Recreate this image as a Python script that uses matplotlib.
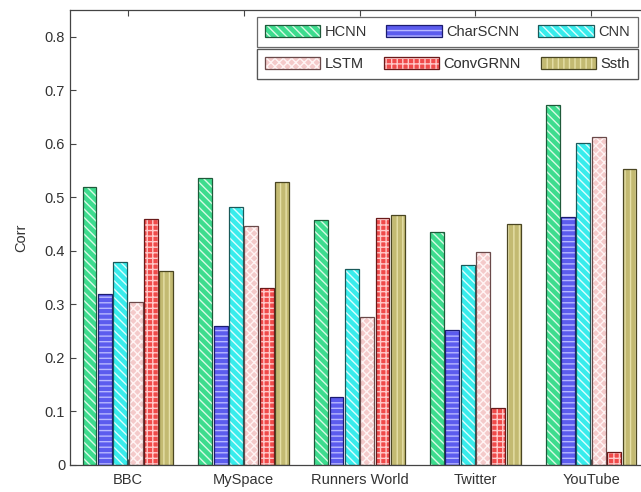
import matplotlib
matplotlib.use("Agg")
import matplotlib.pyplot as plt
from matplotlib.patches import Patch
import numpy as np

plt.rcParams["font.family"] = ["Liberation Sans", "DejaVu Sans"]
plt.rcParams["hatch.linewidth"] = 1.0

CATEGORIES = ["BBC", "MySpace", "Runners World", "Twitter", "YouTube"]
MODELS = ["HCNN", "CharSCNN", "CNN", "LSTM", "ConvGRNN", "Ssth"]

hcnn = [0.520, 0.536, 0.458, 0.435, 0.672]
charscnn = [0.319, 0.260, 0.127, 0.252, 0.464]
cnn = [0.380, 0.482, 0.366, 0.373, 0.602]
lstm = [0.304, 0.447, 0.276, 0.397, 0.613]
convgrnn = [0.459, 0.331, 0.461, 0.107, 0.025]
ssth = [0.362, 0.529, 0.467, 0.450, 0.553]

YTICKS = [0, 0.1, 0.2, 0.3, 0.4, 0.5, 0.6, 0.7, 0.8]
YTICKLABELS = ["0", "0.1", "0.2", "0.3", "0.4", "0.5", "0.6", "0.7", "0.8"]

# face colour, hatch, hatch colour, edge colour
STYLES = [
    ("#3ddc8e", "\\\\\\\\", "#d8fbe6", "#1f5a3a"),
    ("#5c5cee", "---", "#b8b8ff", "#1c1c70"),
    ("#38ecec", "\\\\\\\\", "#dcffff", "#1a5a5a"),
    ("#f4caca", "xxxx", "#fff4f4", "#6a4a4a"),
    ("#f04a4a", "+++", "#ffc8c8", "#6a1a1a"),
    ("#c3ba72", "|||", "#e6e0a8", "#4a4622"),
]


def main() -> None:
    series = [hcnn, charscnn, cnn, lstm, convgrnn, ssth]
    fig = plt.figure(figsize=(6.41, 4.92), dpi=100)
    ax = fig.add_axes([70 / 641, 27 / 492, 579 / 641, 455 / 492])

    x = np.arange(1, len(CATEGORIES) + 1)
    step = 0.1325
    width = 0.12
    handles = []
    for j, (vals, style) in enumerate(zip(series, STYLES)):
        face, hatch, hcol, edge = style
        pos = x + (j - 2.5) * step
        ax.bar(pos, vals, width, color=face, hatch=hatch, edgecolor=hcol, linewidth=0)
        ax.bar(pos, vals, width, fill=False, edgecolor=edge, linewidth=0.9)
        handles.append((Patch(facecolor=face, hatch=hatch, edgecolor=hcol, linewidth=0),
                        Patch(fill=False, edgecolor=edge, linewidth=0.9)))

    ax.set_xlim(0.5, 5.5)
    ax.set_ylim(0, 0.85)
    ax.set_xticks(x)
    ax.set_xticklabels(CATEGORIES, fontsize=10.5, color="#333333")
    ax.set_yticks(YTICKS)
    ax.set_yticklabels(YTICKLABELS, fontsize=10.5, color="#333333")
    ax.tick_params(direction="in", length=4, width=0.8, color="#444444",
                   right=True, top=True)
    ax.tick_params(axis="x", pad=6)
    for sp in ax.spines.values():
        sp.set_color("#444444")
        sp.set_linewidth(0.9)
    ax.set_ylabel("Corr", fontsize=10.5, color="#333333", labelpad=12)

    rows = [(0, 3, 17), (3, 6, 49)]
    for i0, i1, ytop in rows:
        leg = ax.legend(handles[i0:i1], MODELS[i0:i1], ncol=3, mode="expand",
                        bbox_to_anchor=(257 / 641, 1 - ytop / 492, 381 / 641, 0.0001),
                        bbox_transform=fig.transFigure, loc="upper left",
                        fontsize=10.5, frameon=True, fancybox=False,
                        borderpad=0.55, handlelength=3.8, handleheight=0.85,
                        handletextpad=0.3, columnspacing=0.6, borderaxespad=0)
        leg.get_frame().set_edgecolor("#444444")
        leg.get_frame().set_linewidth(0.9)
        for t in leg.get_texts():
            t.set_color("#333333")
        ax.add_artist(leg)

    fig.savefig("out.png", dpi=100)
    plt.close(fig)


if __name__ == "__main__":
    main()
